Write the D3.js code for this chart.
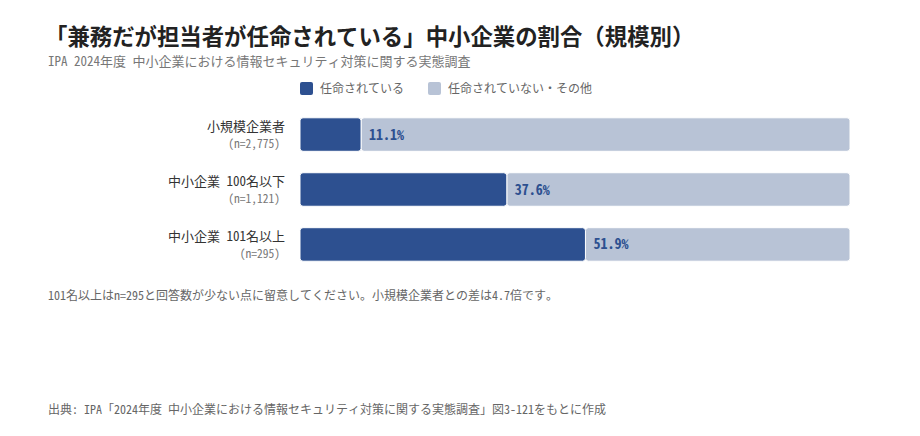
<!DOCTYPE html>
<html>
<head>
<meta charset="utf-8">
<script src="https://cdn.jsdelivr.net/npm/d3@7"></script>
<style>
  body { margin: 0; background: #fff; }
  svg { display: block; font-family: "Noto Sans Mono CJK JP", "Noto Sans CJK JP", sans-serif; }
</style>
</head>
<body>
<svg id="drawing_region"></svg>
<script>
// data
const categories = ["小規模企業者", "中小企業 100名以下", "中小企業 101名以上"];
const sampleSizes = ["(n=2,775)", "(n=1,121)", "(n=295)"];
const appointed = [11.1, 37.6, 51.9];
const notAppointed = [88.9, 62.4, 48.1];
const seriesNames = ["任命されている", "任命されていない・その他"];
const colors = ["#2d5090", "#b8c3d6"];

const width = 920, height = 436;
const margin = { left: 300, right: 70, top: 109, bottom: 166 };

const svg = d3.select('#drawing_region')
    .attr('width', width)
    .attr('height', height);

// titles
svg.append('text')
    .attr('x', 45).attr('y', 45)
    .attr('font-size', 22.4).attr('font-weight', 'bold')
    .attr('fill', '#222')
    .text('「兼務だが担当者が任命されている」中小企業の割合（規模別）');

svg.append('text')
    .attr('x', 48).attr('y', 66)
    .attr('font-size', 13).attr('fill', '#777')
    .text('IPA 2024年度 中小企業における情報セキュリティ対策に関する実態調査');

// legend
const legend = svg.append('g').attr('transform', 'translate(300, 89)');
const legendX = [0, 128];
seriesNames.forEach((name, i) => {
    legend.append('rect')
        .attr('x', legendX[i]).attr('y', -7)
        .attr('width', 13).attr('height', 13)
        .attr('rx', 2)
        .attr('fill', colors[i]);
    legend.append('text')
        .attr('x', legendX[i] + 20).attr('y', 4)
        .attr('font-size', 12).attr('fill', '#666')
        .text(name);
});

// scales
const x = d3.scaleLinear()
    .domain([0, 100])
    .range([margin.left, width - margin.right]);

const y = d3.scaleBand()
    .domain(categories)
    .range([margin.top, height - margin.bottom])
    .paddingInner(0.39)
    .paddingOuter(0.16);

const rows = categories.map((c, i) => ({
    cat: c, n: sampleSizes[i], a: appointed[i], b: notAppointed[i]
}));

const g = svg.append('g');

// light segment
g.selectAll('.bar-rest')
    .data(rows)
    .enter()
    .append('rect')
    .attr('class', 'bar-rest')
    .attr('x', d => x(d.a))
    .attr('y', d => y(d.cat))
    .attr('width', d => x(d.a + d.b) - x(d.a))
    .attr('height', y.bandwidth())
    .attr('rx', 3)
    .attr('fill', colors[1])
    .attr('stroke', '#fff')
    .attr('stroke-width', 1);

// dark segment
g.selectAll('.bar-main')
    .data(rows)
    .enter()
    .append('rect')
    .attr('class', 'bar-main')
    .attr('x', x(0))
    .attr('y', d => y(d.cat))
    .attr('width', d => x(d.a) - x(0))
    .attr('height', y.bandwidth())
    .attr('rx', 3)
    .attr('fill', colors[0])
    .attr('stroke', '#fff')
    .attr('stroke-width', 1);

// value labels
g.selectAll('.value')
    .data(rows)
    .enter()
    .append('text')
    .attr('x', d => x(d.a) + 8)
    .attr('y', d => y(d.cat) + y.bandwidth() / 2)
    .attr('dy', '0.36em')
    .attr('font-size', 14).attr('font-weight', 'bold')
    .attr('fill', colors[0])
    .text(d => d.a.toFixed(1) + '%');

// category labels
g.selectAll('.cat')
    .data(rows)
    .enter()
    .append('text')
    .attr('x', 285)
    .attr('y', d => y(d.cat) + 13)
    .attr('text-anchor', 'end')
    .attr('font-size', 13)
    .attr('fill', '#333')
    .text(d => d.cat);

g.selectAll('.nsize')
    .data(rows)
    .enter()
    .append('text')
    .attr('x', 280)
    .attr('y', d => y(d.cat) + 30)
    .attr('text-anchor', 'end')
    .attr('font-size', 11.5)
    .attr('fill', '#777')
    .text(d => d.n);

// notes
svg.append('text')
    .attr('x', 48).attr('y', 300)
    .attr('font-size', 12).attr('fill', '#666')
    .text('101名以上はn=295と回答数が少ない点に留意してください。小規模企業者との差は4.7倍です。');

svg.append('text')
    .attr('x', 48).attr('y', 414)
    .attr('font-size', 12).attr('fill', '#666')
    .text('出典: IPA「2024年度 中小企業における情報セキュリティ対策に関する実態調査」図3-121をもとに作成');
</script>
</body>
</html>
